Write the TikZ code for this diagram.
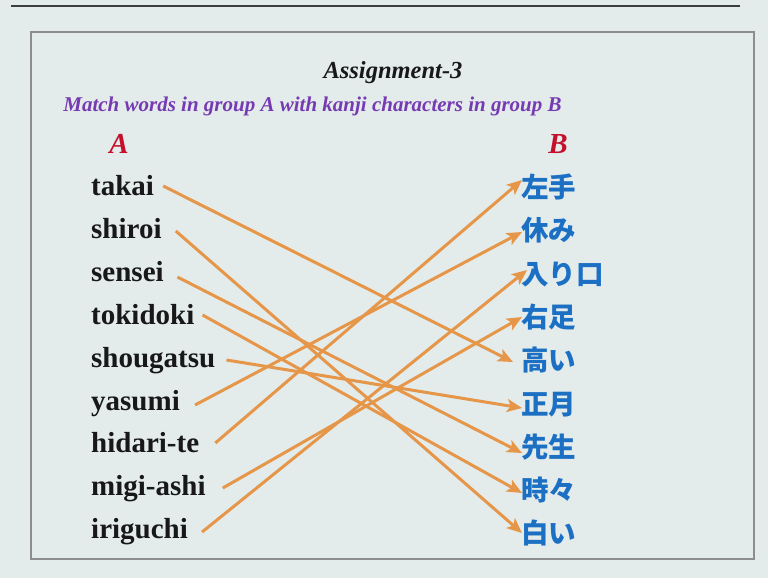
\documentclass[tikz,border=0pt]{standalone}
\usepackage{fontspec}
\setmainfont{Liberation Serif}
\newfontfamily\cjk{Noto Sans CJK JP}
\usetikzlibrary{arrows.meta}
\definecolor{bgc}{RGB}{227,235,235}
\definecolor{framec}{RGB}{140,142,142}
\definecolor{topc}{RGB}{60,62,62}
\definecolor{titlec}{RGB}{24,24,24}
\definecolor{purplec}{RGB}{118,58,178}
\definecolor{redc}{RGB}{196,16,44}
\definecolor{kblue}{RGB}{28,112,196}
\definecolor{arrowc}{RGB}{230,150,72}
\begin{document}
\begin{tikzpicture}[x=1pt,y=-1pt,
  wordlabel/.style={anchor=base west, inner sep=0pt, text=titlec,
    font=\fontsize{29}{29}\selectfont\bfseries},
  kanjilabel/.style={anchor=base west, inner sep=0pt, text=kblue,
    font=\fontsize{27.5}{27.5}\selectfont\cjk\bfseries},
  grouplabel/.style={anchor=base, inner sep=0pt, text=redc,
    font=\fontsize{29}{29}\selectfont\bfseries\itshape},
  conn/.style={draw=arrowc, line width=3pt,
    -{Stealth[length=15pt,width=13pt,inset=3.5pt]}}]
\useasboundingbox[fill=bgc] (0,0) rectangle (768,578);
\draw[topc, line width=1.6pt] (11,6) -- (740,6);
\draw[framec, line width=2pt] (31,32) rectangle (754,559);

\node[anchor=base, inner sep=0pt, text=titlec,
  font=\fontsize{24.5}{24.5}\selectfont\bfseries\itshape] (title) at (393,78) {Assignment-3};
\node[anchor=base, inner sep=0pt, text=purplec,
  font=\fontsize{21}{21}\selectfont\bfseries\itshape] (sub) at (312.5,111)
  {Match words in group A with kanji characters in group B};
\node[grouplabel] (gA) at (119,153) {A};
\node[grouplabel] (gB) at (558,153) {B};

\node[wordlabel] (w1) at (91,195) {takai};
\node[wordlabel] (w2) at (91,238) {shiroi};
\node[wordlabel] (w3) at (91,281) {sensei};
\node[wordlabel] (w4) at (91,324) {tokidoki};
\node[wordlabel] (w5) at (91,367) {shougatsu};
\node[wordlabel] (w6) at (91,410) {yasumi};
\node[wordlabel] (w7) at (91,452) {hidari-te};
\node[wordlabel] (w8) at (91,495) {migi-ashi};
\node[wordlabel] (w9) at (91,538) {iriguchi};

\node[kanjilabel] (k1) at (521,197) {左手};
\node[kanjilabel] (k2) at (521,240) {休み};
\node[kanjilabel] (k3) at (521,284) {入り口};
\node[kanjilabel] (k4) at (521,327) {右足};
\node[kanjilabel] (k5) at (521,370) {高い};
\node[kanjilabel] (k6) at (521,414) {正月};
\node[kanjilabel] (k7) at (521,457) {先生};
\node[kanjilabel] (k8) at (521,500) {時々};
\node[kanjilabel] (k9) at (521,543) {白い};

\draw[conn] ([shift={(9,-9)}]w1.base east) -- ([shift={(-8,-8)}]k5.base west);
\draw[conn] ([shift={(14,-7)}]w2.base east) -- ([shift={(1,-10)}]k9.base west);
\draw[conn] ([shift={(13.5,-4)}]w3.base east) -- ([shift={(1,-4)}]k7.base west);
\draw[conn] ([shift={(8,-9)}]w4.base east) -- ([shift={(1,-7)}]k8.base west);
\draw[conn] ([shift={(11,-7)}]w5.base east) -- ([shift={(1,-6)}]k6.base west);
\draw[conn] ([shift={(15,-5)}]w6.base east) -- ([shift={(1,-8)}]k2.base west);
\draw[conn] ([shift={(16,-9)}]w7.base east) -- ([shift={(1,-17)}]k1.base west);
\draw[conn] ([shift={(17,-7)}]w8.base east) -- ([shift={(1,-10)}]k4.base west);
\draw[conn] ([shift={(14,-6)}]w9.base east) -- ([shift={(6,-14)}]k3.base west);
\end{tikzpicture}
\end{document}
